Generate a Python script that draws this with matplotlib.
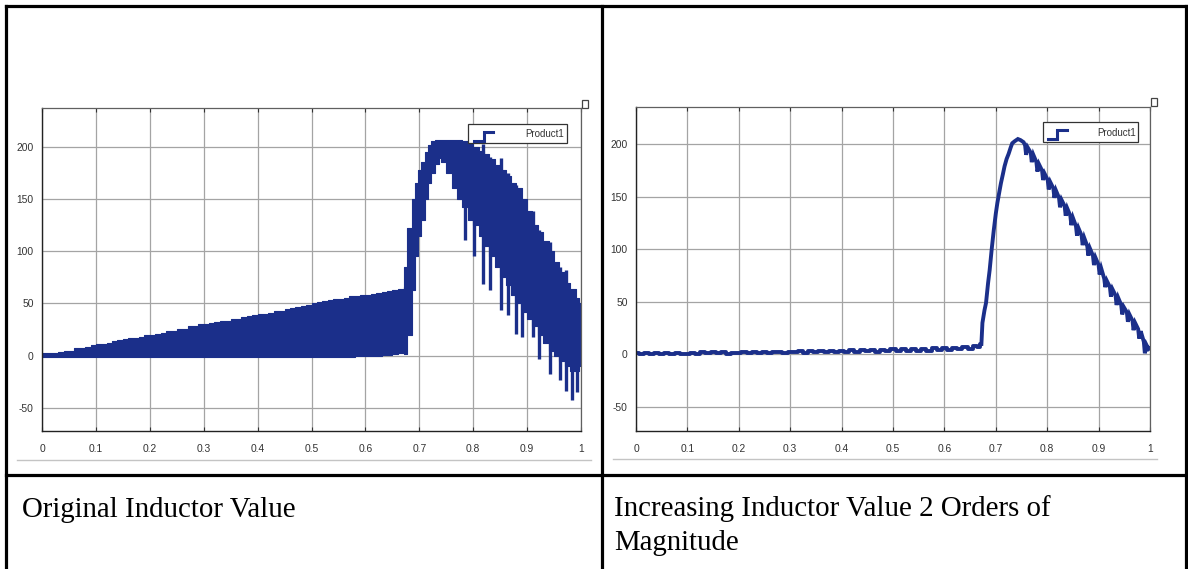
import matplotlib
matplotlib.use("Agg")
import matplotlib.pyplot as plt
from matplotlib.lines import Line2D
from matplotlib.patches import Rectangle

plt.rcParams["axes.unicode_minus"] = False

W, H = 1188, 569
NAVY = "#1b2f8a"

# ── data ────────────────────────────────────────────────────────────────────
# left: original inductor, switching band before the jump
band1_t  = [0.00, 0.01, 0.02, 0.03, 0.04, 0.05, 0.06, 0.07, 0.08, 0.09,
            0.10, 0.11, 0.12, 0.13, 0.14, 0.15, 0.16, 0.17, 0.18, 0.19,
            0.20, 0.21, 0.22, 0.23, 0.24, 0.25, 0.26, 0.27, 0.28, 0.29,
            0.30, 0.31, 0.32, 0.33, 0.34, 0.35, 0.36, 0.37, 0.38, 0.39,
            0.40, 0.41, 0.42, 0.43, 0.44, 0.45, 0.46, 0.47, 0.48, 0.49,
            0.50, 0.51, 0.52, 0.53, 0.54, 0.55, 0.56, 0.57, 0.58, 0.59,
            0.60, 0.61, 0.62, 0.63, 0.64, 0.65, 0.66, 0.672]
band1_hi = [3, 3, 3, 4, 5, 5, 7, 7, 8, 10,
            11, 11, 12, 14, 15, 16, 17, 17, 18, 20,
            20, 21, 22, 24, 24, 26, 26, 28, 28, 30,
            30, 31, 32, 33, 33, 35, 35, 37, 38, 39,
            40, 40, 41, 43, 43, 45, 46, 47, 48, 49,
            50, 51, 52, 53, 54, 54, 55, 57, 57, 58,
            58, 59, 60, 61, 62, 63, 64, 66]
band1_lo = [-1, -1, -1, -1, -1, -1, -1, -1, -1, -1,
            -1, -1, -1, -1, -1, -1, -1, -1, -1, -1,
            -1, -1, -1, -1, -1, -1, -1, -1, -1, -1,
            -1, -1, -1, -1, -1, -1, -1, -1, -1, -1,
            -1, -1, -1, -1, -1, -1, -1, -1, -1, -1,
            -1, -1, -1, -1, -1, -1, -1, -1, 0, 0,
            0, 0, 0, 1, 1, 2, 3, 4]

# left: band after the jump (outer / inner envelope)
band2_t  = [0.672, 0.678, 0.686, 0.692, 0.698, 0.704, 0.710, 0.716, 0.722,
            0.730, 0.736, 0.740, 0.750, 0.760, 0.770, 0.780, 0.790, 0.800,
            0.810, 0.820, 0.830, 0.840, 0.850, 0.860, 0.870, 0.880, 0.890,
            0.900, 0.910, 0.920, 0.930, 0.940, 0.950, 0.960, 0.970, 0.980,
            0.990, 0.996, 1.000]
band2_hi = [85, 122, 150, 165, 178, 185, 195, 202, 205, 206, 206, 206, 206,
            206, 206, 205, 203, 200, 196, 193, 188, 182, 178, 172, 165, 160,
            150, 138, 125, 118, 110, 100, 90, 80, 70, 64, 55, 50, 8]
band2_lo = [2, 20, 63, 95, 115, 130, 150, 165, 175, 183, 189, 185, 175, 160,
            150, 142, 130, 125, 115, 105, 95, 85, 75, 68, 58, 50, 42, 35, 28,
            20, 12, 5, 0, -5, -10, -15, -15, -10, 5]

# left: isolated switching spikes
spike_t  = [0.784, 0.801, 0.819, 0.832, 0.851, 0.865, 0.879, 0.890, 0.911,
            0.922, 0.943, 0.961, 0.972, 0.984, 0.992]
spike_lo = [111, 95, 69, 63, 44, 39, 21, 18, 18, -3, -17, -23, -34, -42, -35]
spike_hi = [200, 200, 203, 190, 189, 175, 163, 150, 138, 120, 109, 85, 82,
            60, 53]

# right: inductor x100, noisy flat part
flat_t = [0.00, 0.01, 0.02, 0.03, 0.04, 0.05, 0.06, 0.07, 0.08, 0.09, 0.10,
          0.11, 0.12, 0.13, 0.14, 0.15, 0.16, 0.17, 0.18, 0.19, 0.20, 0.21,
          0.22, 0.23, 0.24, 0.25, 0.26, 0.27, 0.28, 0.29, 0.30, 0.31, 0.32,
          0.33, 0.34, 0.35, 0.36, 0.37, 0.38, 0.39, 0.40, 0.41, 0.42, 0.43,
          0.44, 0.45, 0.46, 0.47, 0.48, 0.49, 0.50, 0.51, 0.52, 0.53, 0.54,
          0.55, 0.56, 0.57, 0.58, 0.59, 0.60, 0.61, 0.62, 0.63, 0.64, 0.65,
          0.66, 0.668, 0.672]
flat_v = [1.0, 0.5, 1.5, 0.0, 1.0, 0.5, 1.0, 0.0, 1.0, 0.5, 0.0,
          1.5, 0.5, 2.0, 1.0, 2.0, 1.0, 2.5, 0.5, 1.5, 1.0, 2.5,
          1.0, 2.0, 1.5, 2.5, 1.5, 2.5, 2.0, 1.5, 2.5, 2.0, 3.0,
          1.5, 3.0, 2.0, 3.5, 2.5, 3.0, 2.0, 3.5, 2.5, 4.0, 2.5,
          4.0, 3.0, 4.5, 2.5, 4.5, 3.0, 5.0, 3.0, 5.0, 3.5, 5.0,
          3.0, 5.5, 3.5, 6.0, 4.0, 6.0, 4.5, 6.5, 5.0, 7.0, 5.5,
          7.5, 7.0, 10]

# right: rise, peak and saw-toothed decay
pulse_t = [0.672, 0.674, 0.678, 0.681, 0.685, 0.688, 0.692, 0.696, 0.700,
           0.703, 0.707, 0.710, 0.714, 0.717, 0.721, 0.725, 0.729, 0.732,
           0.737, 0.743, 0.748, 0.754,
           0.757, 0.759, 0.762, 0.768, 0.770, 0.773, 0.779, 0.781, 0.784,
           0.790, 0.792, 0.795, 0.801, 0.803, 0.806, 0.812, 0.814, 0.817,
           0.823, 0.825, 0.828, 0.834, 0.836, 0.839, 0.845, 0.847, 0.850,
           0.856, 0.858, 0.861, 0.867, 0.869, 0.872, 0.878, 0.880, 0.883,
           0.889, 0.891, 0.894, 0.900, 0.902, 0.905, 0.911, 0.913, 0.916,
           0.922, 0.924, 0.927, 0.933, 0.935, 0.938, 0.944, 0.946, 0.949,
           0.955, 0.957, 0.960, 0.966, 0.968, 0.971, 0.977, 0.979, 0.982,
           0.988, 0.990, 0.993, 0.997, 1.000]
pulse_v = [10, 30, 42, 49, 68, 80, 100, 118, 134,
           144, 155, 163, 172, 179, 186, 191, 197, 201,
           203, 205, 204, 202,
           199, 190, 197, 192, 183, 190, 183, 174, 181,
           175, 166, 172, 166, 157, 164, 158, 149, 156,
           149, 140, 147, 141, 132, 139, 132, 123, 130,
           122, 113, 120, 113, 104, 111, 103, 94, 101,
           94, 85, 92, 85, 76, 82, 72, 64, 70,
           64, 55, 62, 56, 47, 54, 47, 38, 45,
           40, 31, 38, 32, 23, 30, 24, 15, 22,
           12, 1, 9, 5, 6]

# spike at t=0 drawn by the scope on both plots
start_spike = [0, 200]

x_ticks = [0, 0.1, 0.2, 0.3, 0.4, 0.5, 0.6, 0.7, 0.8, 0.9, 1.0]
x_labels = ["0", "0.1", "0.2", "0.3", "0.4", "0.5", "0.6", "0.7", "0.8", "0.9", "1"]
y_ticks = [-50, 0, 50, 100, 150, 200]

captions_left = ["Original Inductor Value"]
captions_right = ["Increasing Inductor Value 2 Orders of", "Magnitude"]


def fx(x):
    return x / W


def fy(y):
    return 1 - y / H


fig = plt.figure(figsize=(W / 100, H / 100), dpi=100)
fig.patch.set_facecolor("white")


def style_scope(ax, ylim):
    ax.set_xlim(0, 1)
    ax.set_ylim(*ylim)
    ax.set_xticks(x_ticks)
    ax.set_xticklabels(x_labels)
    ax.set_yticks(y_ticks)
    ax.grid(True, color="#a4a4a4", lw=0.9)
    ax.set_axisbelow(True)
    ax.tick_params(axis="x", direction="in", length=3, top=True, pad=9,
                   labelsize=7.4, labelcolor="#333333", color="#333333")
    ax.tick_params(axis="y", direction="in", length=0, pad=6,
                   labelsize=7.4, labelcolor="#333333")
    for lab in ax.get_xticklabels() + ax.get_yticklabels():
        lab.set_family("Liberation Sans")
    for s in ["left", "bottom"]:
        ax.spines[s].set_color("#222222")
        ax.spines[s].set_linewidth(1.0)
    for s in ["top", "right"]:
        ax.spines[s].set_color("#606060")
        ax.spines[s].set_linewidth(0.9)


def scope_legend(ax, box, icon, text_xy):
    x0, y0, x1, y1 = box
    ax.add_patch(Rectangle((x0, y0), x1 - x0, y1 - y0, transform=ax.transAxes,
                           facecolor="white", edgecolor="#333333", lw=0.9,
                           zorder=5))
    ix0, ixm, ix1, iy0, iy1 = icon
    ax.plot([ix0, ixm, ixm, ix1], [iy0, iy0, iy1, iy1], transform=ax.transAxes,
            color=NAVY, lw=2.2, zorder=6, solid_joinstyle="miter")
    ax.text(text_xy[0], text_xy[1], "Product1", transform=ax.transAxes,
            ha="right", va="center", fontsize=7, color="#333333",
            family="Liberation Sans", zorder=6)


# ── left scope ───────────────────────────────────────────────────────────────
axL = fig.add_axes([fx(42), fy(431), 539 / W, 323 / H])
style_scope(axL, (-72, 237))
axL.fill_between(band1_t, band1_lo, band1_hi, step="post", color=NAVY, lw=0.8,
                 edgecolor=NAVY)
axL.fill_between(band2_t, band2_lo, band2_hi, step="post", color=NAVY, lw=0.8,
                 edgecolor=NAVY)
axL.vlines(spike_t, spike_lo, spike_hi, color=NAVY, lw=2.4)
axL.plot([0, 0], start_spike, color=NAVY, lw=1.2)
scope_legend(axL, (0.790, 0.892, 0.974, 0.950),
             (0.801, 0.820, 0.837, 0.898, 0.926), (0.968, 0.918))

# ── right scope ──────────────────────────────────────────────────────────────
axR = fig.add_axes([fx(636), fy(431), 514 / W, 324 / H])
style_scope(axR, (-73, 235.5))
axR.plot(flat_t, flat_v, color=NAVY, lw=2.8, drawstyle="steps-mid")
axR.plot(pulse_t, pulse_v, color=NAVY, lw=2.8, solid_joinstyle="miter")
axR.plot([0, 0], start_spike, color=NAVY, lw=1.2)
scope_legend(axR, (0.792, 0.892, 0.977, 0.954),
             (0.802, 0.819, 0.838, 0.901, 0.929), (0.973, 0.921))

# little scope "expand" icons at the top-right corners
for (x, y) in [(582, 100), (1151, 98)]:
    fig.add_artist(Rectangle((fx(x), fy(y + 8)), 6 / W, 8 / H,
                             transform=fig.transFigure, facecolor="white",
                             edgecolor="#444444", lw=0.9))

# thin gray rule below each scope
fig.add_artist(Line2D([fx(17), fx(591)], [fy(460), fy(460)], color="#c4c4c4", lw=1.0))
fig.add_artist(Line2D([fx(613), fx(1157)], [fy(459), fy(459)], color="#c4c4c4", lw=1.0))

# ── table borders ────────────────────────────────────────────────────────────
border = dict(color="black", lw=2.3, solid_capstyle="projecting")
fig.add_artist(Line2D([fx(6), fx(1186)], [fy(6), fy(6)], **border))
fig.add_artist(Line2D([fx(6), fx(1186)], [fy(475), fy(475)], **border))
fig.add_artist(Line2D([fx(6), fx(6)], [fy(6), fy(575)], **border))
fig.add_artist(Line2D([fx(601.5), fx(601.5)], [fy(6), fy(575)], **border))
fig.add_artist(Line2D([fx(1185.5), fx(1185.5)], [fy(6), fy(575)], **border))

# ── captions ─────────────────────────────────────────────────────────────────
cap = dict(fontsize=20.8, family="Liberation Serif", color="black", va="baseline")
fig.text(fx(22), fy(517), captions_left[0], **cap)
fig.text(fx(614), fy(516), captions_right[0], **cap)
fig.text(fx(614), fy(550), captions_right[1], **cap)

fig.savefig("out.png", dpi=100)
plt.close(fig)
